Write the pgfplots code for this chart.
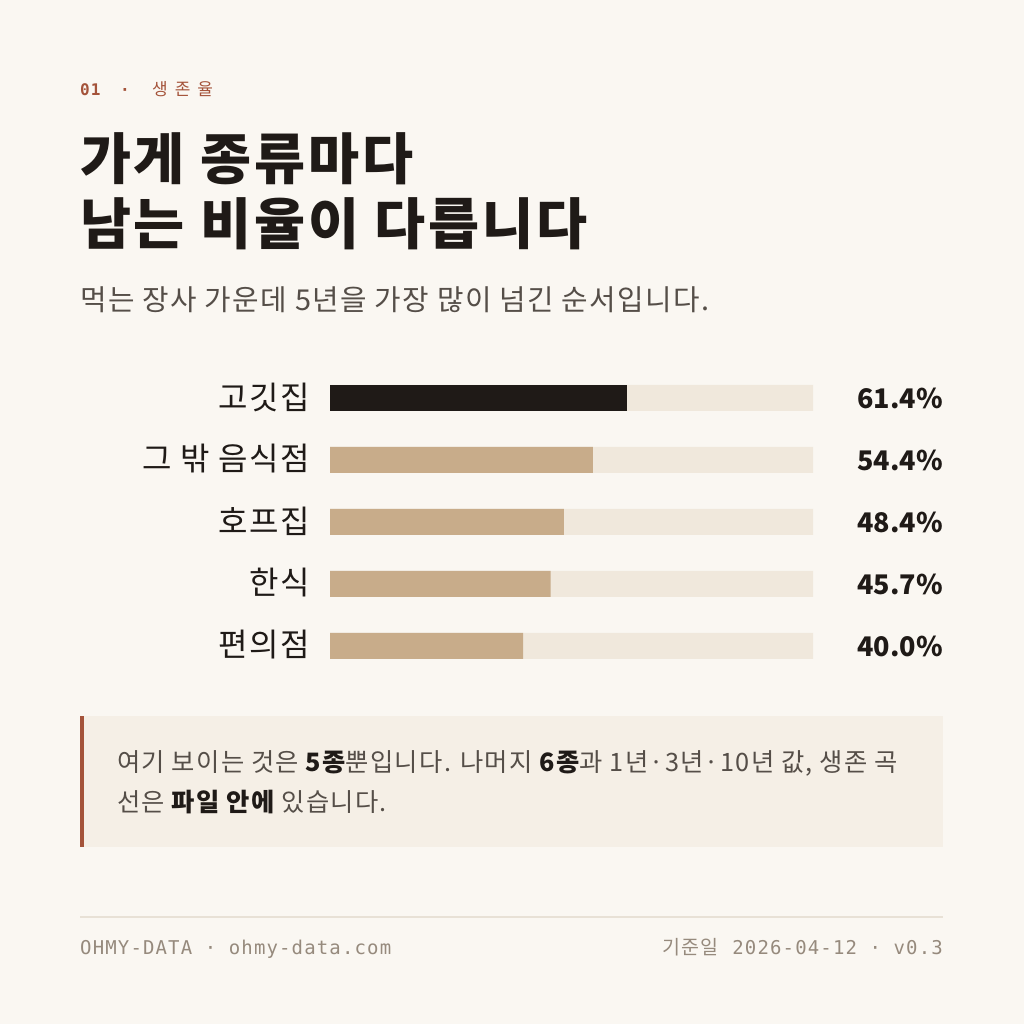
\documentclass[border=0pt]{standalone}
\usepackage{pgfplots}
\pgfplotsset{compat=1.18}
\usepackage{pgfplotstable}
\usepackage{fontspec}
\setmainfont{Noto Sans CJK KR}
\newfontfamily\kr{Noto Sans CJK KR}[LetterSpace=5]
\newfontfamily\mono{DejaVu Sans Mono}[LetterSpace=6]

\definecolor{bg}{HTML}{FAF7F2}
\definecolor{ink}{HTML}{1F1A17}
\definecolor{track}{HTML}{F0E8DC}
\definecolor{tan}{HTML}{C8AC8A}
\definecolor{rust}{HTML}{A4533A}
\definecolor{soft}{HTML}{554E48}
\definecolor{muted}{HTML}{968A7D}
\definecolor{notebg}{HTML}{F5EFE6}
\definecolor{rule}{HTML}{E8E1D6}

% 5-year survival, share of stores (%)
\pgfplotstableread{
idx v full
0 61.4 100
1 54.4 100
2 48.4 100
3 45.7 100
4 40.0 100
}\rates
\pgfplotstableread{
idx v
0 61.4
}\topbar
\pgfplotstableread{
idx v
1 54.4
2 48.4
3 45.7
4 40.0
}\restbars

\begin{document}
\begin{tikzpicture}[x=1pt,y=1pt]
  \fill[bg] (0,0) rectangle (1024,1024);
  \useasboundingbox (0,0) rectangle (1024,1024);

  % header
  \node[anchor=base west, inner sep=0pt, text=rust] at (80,928)
    {\mono\bfseries\fontsize{16}{16}\selectfont 01};
  \node[anchor=base, inner sep=0pt, text=rust] at (125,928)
    {\mono\bfseries\fontsize{16}{16}\selectfont ·};
  \node[anchor=base west, inner sep=0pt, text=rust] at (152,928)
    {\fontsize{17}{17}\selectfont 생\hspace{7pt}존\hspace{7pt}율};

  % title
  \node[anchor=base west, inner sep=0pt, text=ink] at (80,844)
    {\kr\bfseries\fontsize{55.5}{55.5}\selectfont 가게 종류마다};
  \node[anchor=base west, inner sep=0pt, text=ink] at (80,779)
    {\kr\bfseries\fontsize{55.5}{55.5}\selectfont 남는 비율이 다릅니다};

  % subtitle
  \node[anchor=base west, inner sep=0pt, text=soft] at (80,713)
    {\kr\fontsize{28.8}{28.8}\selectfont 먹는 장사 가운데 5년을 가장 많이 넘긴 순서입니다.};

  \begin{axis}[
    at={(330pt,347pt)}, anchor=south west,
    scale only axis, width=483pt, height=310pt,
    xbar, bar width=26pt, bar shift=0pt,
    xmin=0, xmax=100, ymin=-0.5, ymax=4.5,
    y dir=reverse, clip=false,
    axis line style={draw=none}, tick style={draw=none},
    xtick=\empty,
    ytick={0,1,2,3,4},
    yticklabels={고깃집, 그 밖 음식점, 호프집, 한식, 편의점},
    y tick label style={anchor=east, xshift=-12pt, yshift=1pt, text=ink,
      font=\kr\fontsize{32}{32}\selectfont},
  ]
    \addplot[fill=track, draw=none,
      point meta=explicit symbolic,
      nodes near coords={\pgfplotspointmeta\%},
      every node near coord/.append style={anchor=east, xshift=130pt,
        text=ink, inner sep=0pt, font=\bfseries\fontsize{27}{27}\selectfont}]
      table[x=full, y=idx, meta=v] {\rates};
    \addplot[fill=ink, draw=none] table[x=v, y=idx] {\topbar};
    \addplot[fill=tan, draw=none] table[x=v, y=idx] {\restbars};
  \end{axis}

  % note box
  \fill[notebg] (80,177) rectangle (943,308);
  \fill[rust] (80,177) rectangle (84,308);
  \node[anchor=base west, inner sep=0pt, text=soft] at (117,252)
    {\kr\fontsize{25.3}{25.3}\selectfont 여기 보이는 것은 {\color{ink}\bfseries 5종}뿐입니다. 나머지 {\color{ink}\bfseries 6종}과 1년·3년·10년 값, 생존 곡};
  \node[anchor=base west, inner sep=0pt, text=soft] at (117,212)
    {\kr\fontsize{25.3}{25.3}\selectfont 선은 {\color{ink}\bfseries 파일 안에} 있습니다.};

  % footer
  \draw[rule, line width=1.2pt] (80,107) -- (943,107);
  \node[anchor=base west, inner sep=0pt, text=muted] at (80,69)
    {\mono\fontsize{19}{19}\selectfont OHMY-DATA · ohmy-data.com};
  \node[anchor=base east, inner sep=0pt, text=muted] at (943,69)
    {\kr\fontsize{19.5}{19.5}\selectfont 기준일\hspace{14pt}{\mono\fontsize{19}{19}\selectfont 2026-04-12 · v0.3}};
\end{tikzpicture}
\end{document}
